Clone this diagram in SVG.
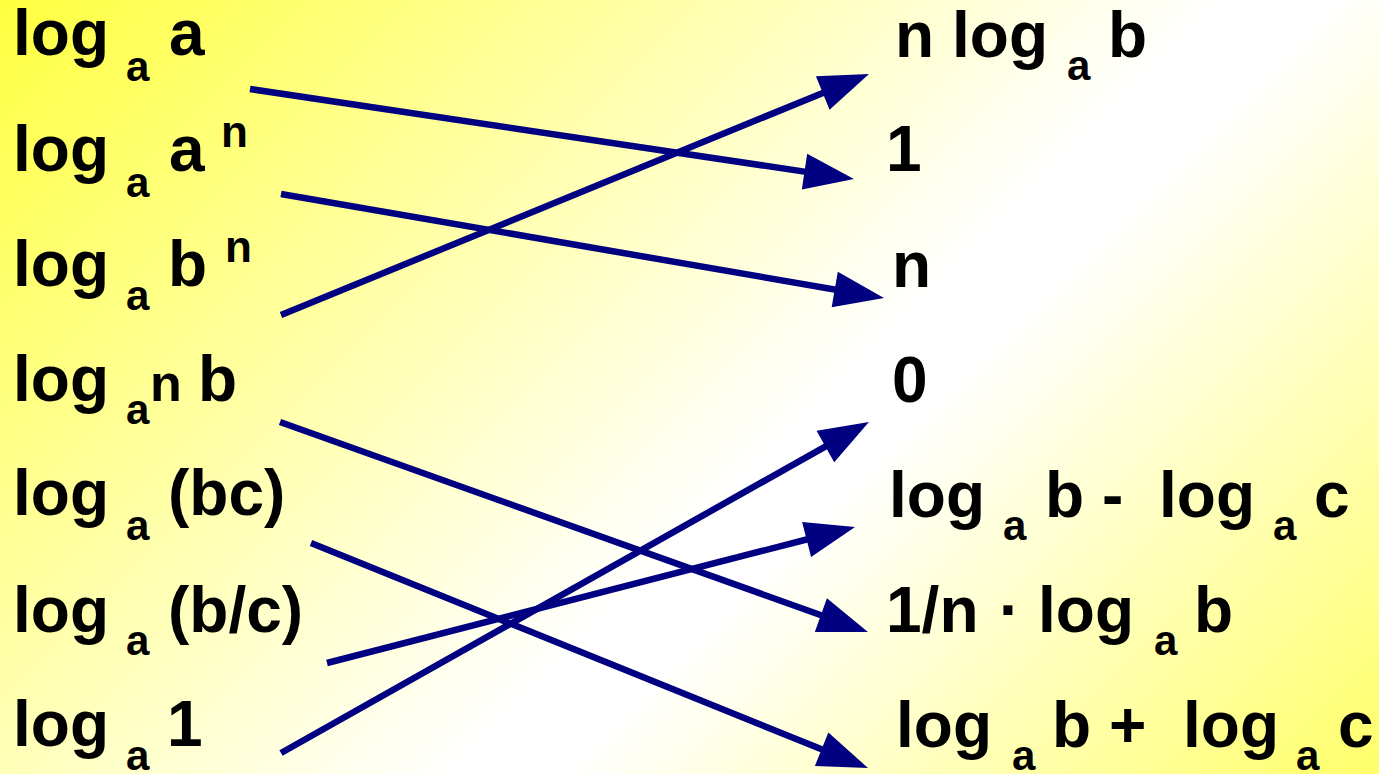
<svg xmlns="http://www.w3.org/2000/svg" width="1379" height="774" viewBox="0 0 1379 774">
<defs>
<linearGradient id="bg" gradientUnits="userSpaceOnUse" x1="0" y1="0" x2="1076" y2="1076">
<stop offset="0" stop-color="#ffff40"/>
<stop offset="0.57" stop-color="#ffffff"/>
<stop offset="0.62" stop-color="#ffffff"/>
<stop offset="1" stop-color="#ffff6a"/>
</linearGradient>
<marker id="ah" markerUnits="userSpaceOnUse" markerWidth="50" markerHeight="36" refX="10" refY="18" orient="auto" overflow="visible">
<path d="M0,0 L50,18 L0,36 z" fill="#000080"/>
</marker>
</defs>
<style>
text{font-family:"Liberation Sans",Arial,sans-serif;font-weight:bold;fill:#000}
.m{font-size:64px}
.s{font-size:42px}
.p{font-size:44px}
.c line{stroke:#000080;stroke-width:6.5;marker-end:url(#ah)}
</style>
<rect width="1379" height="774" fill="url(#bg)"/>
<g id="L1"><text class="m"><tspan x="13" y="55">log</tspan><tspan class="s" x="126" y="81">a</tspan><tspan x="169" y="55">a</tspan></text></g>
<g id="L2"><text class="m"><tspan x="13" y="171">log</tspan><tspan class="s" x="126" y="197">a</tspan><tspan x="169" y="171">a</tspan><tspan class="p" x="221" y="147">n</tspan></text></g>
<g id="L3"><text class="m"><tspan x="13" y="286">log</tspan><tspan class="s" x="126" y="310">a</tspan><tspan x="168" y="286">b</tspan><tspan class="p" x="225" y="262">n</tspan></text></g>
<g id="L4"><text class="m"><tspan x="13" y="401">log</tspan><tspan class="s" x="126" y="424">a</tspan><tspan x="150" y="401" style="font-size:52px">n</tspan><tspan x="198" y="401">b</tspan></text></g>
<g id="L5"><text class="m"><tspan x="13" y="515">log</tspan><tspan class="s" x="126" y="540">a</tspan><tspan x="168" y="515">(bc)</tspan></text></g>
<g id="L6"><text class="m"><tspan x="13" y="632">log</tspan><tspan class="s" x="126" y="655">a</tspan><tspan x="168" y="632">(b/c)</tspan></text></g>
<g id="L7"><text class="m"><tspan x="13" y="746">log</tspan><tspan class="s" x="126" y="770">a</tspan><tspan x="167" y="746">1</tspan></text></g>
<g id="R1"><text class="m"><tspan x="895" y="57">n</tspan><tspan x="952" y="57">log</tspan><tspan class="s" x="1067" y="80">a</tspan><tspan x="1108" y="57">b</tspan></text></g>
<g id="R2"><text class="m"><tspan x="886" y="171">1</tspan></text></g>
<g id="R3"><text class="m"><tspan x="892" y="287">n</tspan></text></g>
<g id="R4"><text class="m"><tspan x="892" y="402">0</tspan></text></g>
<g id="R5"><text class="m"><tspan x="889" y="517">log</tspan><tspan class="s" x="1003" y="540">a</tspan><tspan x="1045" y="517">b</tspan><tspan x="1102" y="517">-</tspan><tspan x="1159" y="517">log</tspan><tspan class="s" x="1273" y="540">a</tspan><tspan x="1314" y="517">c</tspan></text></g>
<g id="R6"><text class="m"><tspan x="886" y="632">1/n</tspan><tspan x="999" y="632">·</tspan><tspan x="1038" y="632">log</tspan><tspan class="s" x="1154" y="655">a</tspan><tspan x="1194" y="632">b</tspan></text></g>
<g id="R7"><text class="m"><tspan x="896" y="747">log</tspan><tspan class="s" x="1012" y="770">a</tspan><tspan x="1052" y="747">b</tspan><tspan x="1109" y="747">+</tspan><tspan x="1183" y="747">log</tspan><tspan class="s" x="1296" y="770">a</tspan><tspan x="1338" y="747">c</tspan></text></g>
<g id="connectors" class="c">
<line x1="250" y1="89" x2="814.4" y2="173.1"/>
<line x1="281" y1="194" x2="844.6" y2="291.2"/>
<line x1="281" y1="315" x2="832" y2="89.2"/>
<line x1="280" y1="422" x2="830.3" y2="618.5"/>
<line x1="311" y1="543" x2="830.9" y2="753"/>
<line x1="327" y1="663" x2="816.3" y2="537"/>
<line x1="281" y1="753" x2="834.1" y2="441.6"/>
</g>
</svg>
